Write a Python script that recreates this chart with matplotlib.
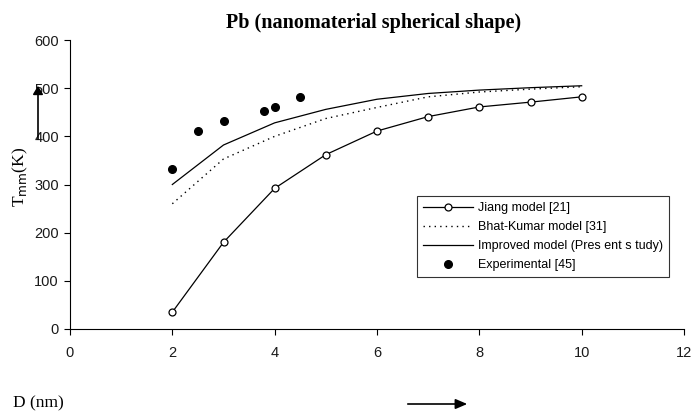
import matplotlib

matplotlib.use("Agg")
import matplotlib.pyplot as plt

# data
D_MODEL = [2, 3, 4, 5, 6, 7, 8, 9, 10]
JIANG = [35, 180, 292, 362, 411, 441, 461, 471, 482]
BHAT_KUMAR = [260, 353, 400, 437, 460, 482, 492, 498, 503]
IMPROVED = [300, 382, 428, 456, 477, 489, 496, 501, 505]

D_EXP = [2.0, 2.5, 3.0, 3.8, 4.0, 4.5]
T_EXP = [332, 411, 432, 453, 461, 482]

X_TICKS = [0, 2, 4, 6, 8, 10, 12]
Y_TICKS = [0, 100, 200, 300, 400, 500, 600]

SERIF = ["Liberation Serif", "DejaVu Serif"]
SANS = ["Liberation Sans", "DejaVu Sans"]

W, H = 691, 412

fig = plt.figure(figsize=(W / 100, H / 100), dpi=100)
ax = fig.add_axes([70 / W, 1 - 329 / H, (684 - 70) / W, (329 - 40) / H])

ax.plot(D_MODEL, JIANG, color="black", lw=0.9, marker="o", ms=5,
        mfc="white", mec="black", mew=0.9, label="Jiang model [21]")
ax.plot(D_MODEL, BHAT_KUMAR, color="black", lw=1.0, ls=(0, (1, 3)),
        label="Bhat-Kumar model [31]")
ax.plot(D_MODEL, IMPROVED, color="black", lw=0.9,
        label="Improved model (Pres ent s tudy)")
ax.plot(D_EXP, T_EXP, ls="none", marker="o", ms=5.5, color="black",
        label="Experimental [45]")

ax.set_xlim(0, 12)
ax.set_ylim(0, 600)
ax.set_xticks(X_TICKS)
ax.set_yticks(Y_TICKS)
for lab in ax.get_xticklabels() + ax.get_yticklabels():
    lab.set_family(SANS)
    lab.set_fontsize(10.5)
    lab.set_color("#1a1a1a")
ax.tick_params(direction="out", length=4, width=0.8)
ax.tick_params(axis="x", pad=8)
ax.tick_params(axis="y", pad=4)
ax.spines["top"].set_visible(False)
ax.spines["right"].set_visible(False)

leg = ax.legend(loc="upper left", bbox_to_anchor=((417 - 70) / 614, (329 - 196) / 289),
                prop={"family": SANS, "size": 9}, frameon=True, fancybox=False,
                edgecolor="black", handlelength=4.0, handletextpad=0.35,
                labelspacing=0.55, borderpad=0.5, borderaxespad=0)
leg.get_frame().set_linewidth(0.8)

fig.text(374 / W, 1 - 23 / H, "Pb (nanomaterial spherical shape)", ha="center",
         va="center", family=SERIF, fontweight="bold", fontsize=14.5)
fig.text(20 / W, 1 - 177 / H, r"T$_{\mathrm{mm}}$(K)", ha="center", va="center",
         rotation=90, family=SERIF, fontsize=12.5)
fig.text(13 / W, 1 - 403 / H, "D (nm)", ha="left", va="center", family=SERIF,
         fontsize=12.5)

# direction arrows
fig.patches.append(matplotlib.patches.FancyArrowPatch(
    (38 / W, 1 - 142 / H), (38 / W, 1 - 83 / H), transform=fig.transFigure,
    arrowstyle="-|>,head_length=5,head_width=3", color="black", lw=1.2))
fig.patches.append(matplotlib.patches.FancyArrowPatch(
    (405 / W, 1 - 404 / H), (470 / W, 1 - 404 / H), transform=fig.transFigure,
    arrowstyle="-|>,head_length=7,head_width=3", color="black", lw=1.2))

fig.savefig("out.png", dpi=100)
